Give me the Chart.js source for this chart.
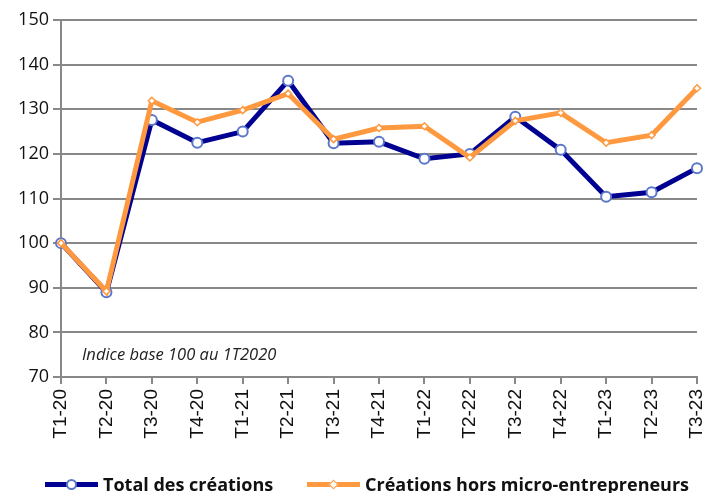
<!DOCTYPE html>
<html>
<head>
<meta charset="utf-8">
<script src="https://cdn.jsdelivr.net/npm/chart.js@4"></script>
<style>
  body { margin: 0; background: #fff; }
  #wrap { position: relative; width: 707px; height: 493px; }
  #legend { position: absolute; left: 0; top: 472px; width: 707px; height: 22px;
    font-family: "Open Sans", sans-serif; font-weight: bold; font-size: 18px; color: #111; }
  .item { position: absolute; top: 0; height: 22px; line-height: 22px; }
  .sample { position: absolute; top: 10px; width: 53px; height: 5px; }
  .dot { position: absolute; background: #fff; box-sizing: border-box; }
  .lab { position: absolute; top: 1px; white-space: nowrap; }
</style>
</head>
<body>
<div id="wrap">
  <canvas id="chart" width="707" height="493"></canvas>
  <div id="legend">
    <div class="item" style="left:45px">
      <div class="sample" style="background:#000091"></div>
      <div class="dot" style="left:21px;top:7px;width:11px;height:11px;border:2px solid #5b77c9;border-radius:50%"></div>
      <div class="lab" style="left:58px">Total des créations</div>
    </div>
    <div class="item" style="left:307px">
      <div class="sample" style="background:#ff9940"></div>
      <div class="dot" style="left:23px;top:9px;width:7px;height:7px;border:1.5px solid #ff9940;transform:rotate(45deg)"></div>
      <div class="lab" style="left:58px">Créations hors micro-entrepreneurs</div>
    </div>
  </div>
</div>
<script>
// Trimestres
const labels = ["T1-20", "T2-20", "T3-20", "T4-20", "T1-21", "T2-21", "T3-21", "T4-21",
  "T1-22", "T2-22", "T3-22", "T4-22", "T1-23", "T2-23", "T3-23"];

// Indice base 100 au 1T2020
const totalCreations = [100, 89.0, 127.6, 122.5, 125.0, 136.4, 122.4, 122.7,
  118.9, 120.0, 128.3, 120.9, 110.4, 111.4, 116.8];
const horsMicro = [100, 89.2, 131.9, 127.1, 129.8, 133.5, 123.3, 125.8,
  126.2, 119.2, 127.4, 129.2, 122.5, 124.2, 134.7];

const yTicks = [70, 80, 90, 100, 110, 120, 130, 140, 150];

// note en bas du graphique
const notePlugin = {
  id: "note",
  afterDatasetsDraw(chart) {
    const ctx = chart.ctx;
    const x = chart.scales.x.getPixelForValue(0.46);
    const y = chart.scales.y.getPixelForValue(74.9);
    ctx.save();
    ctx.font = "italic 16.5px 'Open Sans', sans-serif";
    ctx.fillStyle = "#222";
    ctx.textBaseline = "middle";
    ctx.fillText("Indice base 100 au 1T2020", x, y);
    ctx.restore();
  }
};

const ctx = document.getElementById("chart").getContext("2d");
new Chart(ctx, {
  type: "line",
  data: {
    labels: labels,
    datasets: [
      {
        label: "Total des créations",
        data: totalCreations,
        borderColor: "#000091",
        borderWidth: 5,
        pointStyle: "circle",
        pointRadius: 5,
        pointBorderWidth: 2,
        pointBorderColor: "#5b77c9",
        pointBackgroundColor: "#fff",
        order: 1,
      },
      {
        label: "Créations hors micro-entrepreneurs",
        data: horsMicro,
        borderColor: "#ff9940",
        borderWidth: 5,
        pointStyle: "rectRot",
        pointRadius: 3.5,
        pointBorderWidth: 1.5,
        pointBorderColor: "#ff9940",
        pointBackgroundColor: "#fff",
        order: 0,
      },
    ],
  },
  options: {
    responsive: false,
    animation: false,
    layout: { padding: { top: 20, right: 10, bottom: 46, left: 0 } },
    plugins: { legend: { display: false }, tooltip: { enabled: false } },
    scales: {
      x: {
        offset: false,
        grid: { drawOnChartArea: false, color: "#888", lineWidth: 2, tickLength: 7 },
        border: { color: "#888", width: 2 },
        ticks: { color: "#111", font: { family: "'Liberation Sans', Arial, sans-serif", size: 19 }, minRotation: 90, maxRotation: 90, padding: 5, autoSkip: false },
        afterFit(scale) {
          scale.height = 70;
          scale.paddingLeft = 0;
          scale.paddingRight = 0;
        },
      },
      y: {
        min: 70,
        max: 150,
        afterBuildTicks(scale) { scale.ticks = yTicks.map(v => ({ value: v })); },
        grid: { color: "#888", lineWidth: 2, tickLength: 8 },
        border: { color: "#888", width: 2 },
        ticks: { color: "#111", font: { family: "'Open Sans', sans-serif", size: 18 }, padding: 4 },
        afterFit(scale) {
          scale.width = 61;
          scale.paddingTop = 0;
          scale.paddingBottom = 0;
        },
      },
    },
  },
  plugins: [notePlugin],
});
</script>
</body>
</html>
